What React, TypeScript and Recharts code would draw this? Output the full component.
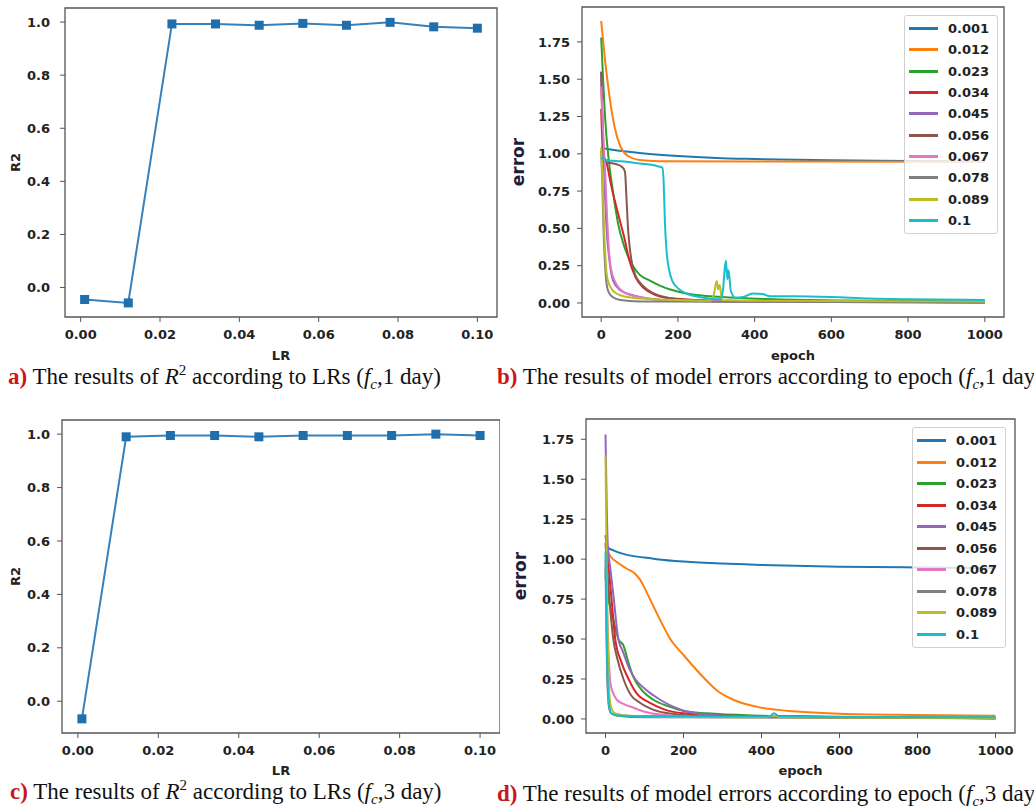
import React from 'react';
import { LineChart, Line, XAxis, YAxis, ReferenceArea, Legend } from 'recharts';

// learning rates tried (x of the R2 panels, legend of the error panels)
const lrValues = [0.001, 0.012, 0.023, 0.034, 0.045, 0.056, 0.067, 0.078, 0.089, 0.1];
const lrNames = ['0.001', '0.012', '0.023', '0.034', '0.045', '0.056', '0.067', '0.078', '0.089', '0.1'];

const r2OneDay = [-0.045, -0.058, 0.993, 0.993, 0.988, 0.995, 0.988, 0.999, 0.982, 0.977];
const r2ThreeDay = [-0.066, 0.99, 0.995, 0.995, 0.99, 0.995, 0.995, 0.995, 1.0, 0.995];

const lrTicks = [0, 0.02, 0.04, 0.06, 0.08, 0.1];
const r2Ticks = [0, 0.2, 0.4, 0.6, 0.8, 1.0];
const epochTicks = [0, 200, 400, 600, 800, 1000];
const errorTicks = [0, 0.25, 0.5, 0.75, 1, 1.25, 1.5, 1.75];

const COLORS = [
  '#1f77b4',
  '#ff7f0e',
  '#2ca02c',
  '#d62728',
  '#9467bd',
  '#8c564b',
  '#e377c2',
  '#7f7f7f',
  '#bcbd22',
  '#17becf',
];

// [epoch, error] (fc, 1 day)
const err1d_001 = [[0, 1.04], [20, 1.03], [50, 1.02], [100, 1.005], [200, 0.985], [300, 0.972], [400, 0.965], [600, 0.956], [800, 0.952], [1000, 0.95]];
const err1d_012 = [[0, 1.89], [5, 1.76], [10, 1.63], [15, 1.52], [23, 1.36], [35, 1.18], [50, 1.05], [70, 0.985], [100, 0.958], [150, 0.95], [400, 0.948], [1000, 0.947]];
const err1d_023 = [[0, 1.78], [5, 1.5], [10, 1.25], [20, 0.95], [30, 0.76], [45, 0.52], [60, 0.38], [80, 0.26], [100, 0.19], [127, 0.15], [150, 0.12], [180, 0.09], [230, 0.06], [314, 0.04], [450, 0.025], [700, 0.015], [1000, 0.01]];
const err1d_034 = [[0, 1.3], [5, 1.0], [15, 0.93], [25, 0.8], [36, 0.68], [48, 0.56], [60, 0.44], [73, 0.29], [90, 0.17], [111, 0.1], [140, 0.055], [170, 0.035], [250, 0.02], [400, 0.01], [1000, 0.005]];
const err1d_045 = [[0, 1.55], [5, 1.1], [10, 0.72], [15, 0.46], [20, 0.32], [31, 0.15], [50, 0.085], [78, 0.055], [120, 0.03], [200, 0.015], [400, 0.008], [1000, 0.004]];
const err1d_056 = [[0, 1.55], [3, 1.2], [6, 0.95], [20, 0.94], [40, 0.93], [55, 0.91], [62, 0.88], [66, 0.7], [70, 0.5], [75, 0.36], [80, 0.27], [90, 0.18], [100, 0.14], [120, 0.09], [150, 0.05], [200, 0.025], [300, 0.012], [1000, 0.005]];
const err1d_067 = [[0, 1.45], [5, 1.15], [10, 0.9], [15, 0.6], [20, 0.36], [25, 0.24], [35, 0.15], [61, 0.07], [100, 0.04], [200, 0.015], [1000, 0.005]];
const err1d_078 = [[0, 1.02], [3, 0.8], [6, 0.5], [10, 0.26], [14, 0.13], [19, 0.075], [30, 0.04], [50, 0.02], [100, 0.01], [1000, 0.003]];
const err1d_089 = [[0, 1.04], [3, 0.85], [6, 0.6], [10, 0.36], [14, 0.2], [20, 0.13], [30, 0.085], [52, 0.05], [100, 0.03], [200, 0.02], [285, 0.015], [294, 0.06], [301, 0.148], [305, 0.09], [309, 0.12], [315, 0.02], [400, 0.015], [1000, 0.01]];
const err1d_1 = [[0, 0.97], [20, 0.955], [50, 0.95], [100, 0.935], [150, 0.915], [160, 0.905], [163, 0.8], [166, 0.55], [170, 0.36], [175, 0.25], [185, 0.15], [204, 0.09], [225, 0.06], [246, 0.045], [280, 0.03], [312, 0.025], [318, 0.1], [321, 0.2], [325, 0.284], [329, 0.16], [332, 0.22], [338, 0.08], [350, 0.035], [370, 0.04], [395, 0.064], [420, 0.06], [440, 0.045], [500, 0.045], [600, 0.04], [700, 0.03], [800, 0.025], [1000, 0.02]];

// [epoch, error] (fc, 3 day)
const err3d_001 = [[0, 1.1], [8, 1.07], [20, 1.055], [50, 1.03], [100, 1.01], [131, 1.0], [200, 0.985], [300, 0.972], [400, 0.964], [600, 0.953], [800, 0.948], [1000, 0.945]];
const err3d_012 = [[0, 1.08], [12, 1.02], [30, 0.98], [55, 0.94], [75, 0.91], [89, 0.87], [100, 0.82], [114, 0.75], [140, 0.62], [166, 0.5], [200, 0.4], [255, 0.25], [285, 0.18], [328, 0.12], [400, 0.07], [500, 0.045], [600, 0.033], [800, 0.025], [1000, 0.02]];
const err3d_023 = [[0, 0.9], [5, 0.78], [12, 0.7], [20, 0.62], [33, 0.5], [46, 0.46], [58, 0.36], [72, 0.26], [90, 0.19], [123, 0.12], [160, 0.08], [200, 0.05], [260, 0.035], [400, 0.02], [600, 0.012], [1000, 0.008]];
const err3d_034 = [[0, 1.15], [4, 1.05], [10, 0.9], [18, 0.68], [25, 0.5], [40, 0.36], [59, 0.25], [80, 0.16], [114, 0.1], [150, 0.06], [200, 0.035], [300, 0.02], [1000, 0.005]];
const err3d_045 = [[0, 1.78], [3, 1.35], [6, 1.08], [12, 0.95], [20, 0.78], [33, 0.5], [45, 0.42], [60, 0.32], [76, 0.25], [100, 0.19], [140, 0.12], [175, 0.075], [208, 0.046], [300, 0.02], [500, 0.01], [1000, 0.005]];
const err3d_056 = [[0, 1.1], [4, 0.95], [10, 0.75], [20, 0.5], [30, 0.38], [46, 0.25], [65, 0.15], [89, 0.1], [120, 0.06], [160, 0.035], [250, 0.018], [1000, 0.005]];
const err3d_067 = [[0, 1.0], [4, 0.7], [8, 0.4], [13, 0.22], [20, 0.16], [29, 0.12], [50, 0.09], [72, 0.07], [100, 0.045], [150, 0.025], [250, 0.012], [1000, 0.005]];
const err3d_078 = [[0, 0.95], [2, 0.6], [4, 0.3], [7, 0.12], [10, 0.06], [15, 0.035], [30, 0.02], [100, 0.01], [1000, 0.005]];
const err3d_089 = [[0, 1.65], [2, 1.2], [4, 0.75], [7, 0.35], [10, 0.15], [15, 0.07], [25, 0.035], [60, 0.02], [200, 0.012], [410, 0.01], [430, 0.022], [450, 0.01], [1000, 0.006]];
const err3d_1 = [[0, 1.05], [2, 0.7], [4, 0.4], [7, 0.15], [10, 0.07], [15, 0.035], [30, 0.022], [100, 0.018], [300, 0.015], [420, 0.016], [432, 0.035], [445, 0.017], [600, 0.012], [1000, 0.01]];

const errors1Day = [err1d_001, err1d_012, err1d_023, err1d_034, err1d_045, err1d_056, err1d_067, err1d_078, err1d_089, err1d_1];
const errors3Day = [err3d_001, err3d_012, err3d_023, err3d_034, err3d_045, err3d_056, err3d_067, err3d_078, err3d_089, err3d_1];

const FONT = 'DejaVu Sans';
const tickStyle = { fill: '#222', fontSize: 13, fontWeight: 700, fontFamily: FONT };
const frameColor = '#555';

function SquareDot(props: any) {
  const { cx, cy, index } = props;
  if (cx == null || cy == null) return null;
  return <rect key={`sq-${index}`} x={cx - 4.5} y={cy - 4.5} width={9} height={9} fill="#1f6fad" />;
}

function R2Panel({ values, width, height, margin, yAxisWidth, xAxisHeight, yDomain, yTickMargin, labelOffset }: any) {
  const data = lrValues.map((lr, i) => ({ lr, r2: values[i] }));
  const xDomain = [-0.00395, 0.10495];
  return (
    <LineChart width={width} height={height} data={data} margin={margin}>
      <XAxis
        type="number"
        dataKey="lr"
        domain={xDomain}
        allowDataOverflow
        ticks={lrTicks}
        tickFormatter={(v) => v.toFixed(2)}
        tick={tickStyle}
        tickSize={5}
        tickMargin={8}
        tickLine={{ stroke: frameColor }}
        axisLine={false}
        height={xAxisHeight}
        label={{ value: 'LR', position: 'insideBottom', offset: 0, ...tickStyle }}
      />
      <YAxis
        type="number"
        domain={yDomain}
        allowDataOverflow
        ticks={r2Ticks}
        tickFormatter={(v) => v.toFixed(1)}
        tick={tickStyle}
        tickSize={5}
        tickMargin={yTickMargin}
        tickLine={{ stroke: frameColor }}
        axisLine={false}
        width={yAxisWidth}
        label={{ value: 'R2', angle: -90, position: 'insideLeft', offset: labelOffset, ...tickStyle, style: { textAnchor: 'middle' } }}
      />
      <Line
        type="linear"
        dataKey="r2"
        stroke="#3581bd"
        strokeWidth={2}
        dot={SquareDot}
        isAnimationActive={false}
      />
      <ReferenceArea x1={xDomain[0]} x2={xDomain[1]} y1={yDomain[0]} y2={yDomain[1]} fill="none" stroke={frameColor} strokeWidth={1.3} ifOverflow="visible" />
    </LineChart>
  );
}

function ErrorLegend({ rowHeight }: { rowHeight: number }) {
  return (
    <div
      style={{
        border: '1px solid #d0d0d0',
        borderRadius: 3,
        background: 'rgba(255,255,255,0.8)',
        padding: '2px 8px 2px 4px',
        fontFamily: FONT,
        fontWeight: 700,
        fontSize: 13,
        color: '#222',
      }}
    >
      {lrNames.map((name, i) => (
        <div key={name} style={{ display: 'flex', alignItems: 'center', height: rowHeight }}>
          <span style={{ display: 'inline-block', width: 29, height: 3, background: COLORS[i], marginRight: 10 }} />
          <span>{name}</span>
        </div>
      ))}
    </div>
  );
}

function ErrorPanel({ series, width, height, margin, yAxisWidth, xAxisHeight, yDomain, labelOffset, legendLeft, legendTop, rowHeight }: any) {
  const xDomain = [-50, 1050];
  return (
    <LineChart width={width} height={height} margin={margin}>
      <XAxis
        type="number"
        dataKey="e"
        domain={xDomain}
        allowDataOverflow
        ticks={epochTicks}
        tick={tickStyle}
        tickSize={5}
        tickMargin={8}
        tickLine={{ stroke: frameColor }}
        axisLine={false}
        height={xAxisHeight}
        label={{ value: 'epoch', position: 'insideBottom', offset: 0, ...tickStyle }}
      />
      <YAxis
        type="number"
        dataKey="v"
        domain={yDomain}
        allowDataOverflow
        ticks={errorTicks}
        tickFormatter={(v) => v.toFixed(2)}
        tick={tickStyle}
        tickSize={5}
        tickMargin={7}
        tickLine={{ stroke: frameColor }}
        axisLine={false}
        width={yAxisWidth}
        label={{
          value: 'error',
          angle: -90,
          position: 'insideLeft',
          offset: labelOffset,
          fill: '#1e1e38',
          fontSize: 17,
          fontWeight: 700,
          fontFamily: FONT,
          style: { textAnchor: 'middle' },
        }}
      />
      {series.map((pts: number[][], i: number) => (
        <Line
          key={lrNames[i]}
          name={lrNames[i]}
          data={pts.map(([e, v]) => ({ e, v }))}
          type="monotone"
          dataKey="v"
          stroke={COLORS[i]}
          strokeWidth={2}
          dot={false}
          isAnimationActive={false}
        />
      ))}
      <ReferenceArea x1={xDomain[0]} x2={xDomain[1]} y1={yDomain[0]} y2={yDomain[1]} fill="none" stroke={frameColor} strokeWidth={1.3} ifOverflow="visible" />
      <Legend
        layout="horizontal"
        verticalAlign="middle"
        align="center"
        wrapperStyle={{ left: legendLeft, top: legendTop, width: 'auto', height: 'auto' }}
        content={() => <ErrorLegend rowHeight={rowHeight} />}
      />
    </LineChart>
  );
}

function Caption({ letter, children, left, top }: any) {
  return (
    <div
      style={{
        position: 'absolute',
        left,
        top,
        fontFamily: '"Liberation Serif", "Times New Roman", serif',
        fontSize: 23,
        lineHeight: '26px',
        whiteSpace: 'nowrap',
        color: '#111',
      }}
    >
      <b style={{ color: '#c8161d' }}>{letter}</b> {children}
    </div>
  );
}

const sup = { fontSize: 15, position: 'relative' as const, top: -9 };
const sub = { fontSize: 15, position: 'relative' as const, top: 5 };

export default function App() {
  return (
    <div style={{ position: 'absolute', left: 0, top: 0, width: 1034, height: 808, background: '#fff', overflow: 'hidden' }}>
      <div style={{ position: 'absolute', left: 0, top: 0 }}>
        <R2Panel
          values={r2OneDay}
          width={500}
          height={372}
          margin={{ top: 8, right: 3, bottom: 12, left: 8 }}
          yAxisWidth={57}
          xAxisHeight={43}
          yDomain={[-0.111, 1.053]}
          yTickMargin={10}
          labelOffset={7}
        />
      </div>
      <div style={{ position: 'absolute', left: 500, top: 0 }}>
        <ErrorPanel
          series={errors1Day}
          width={534}
          height={372}
          margin={{ top: 7, right: 30, bottom: 12, left: 8 }}
          yAxisWidth={74}
          xAxisHeight={43}
          yDomain={[-0.094, 1.984]}
          labelOffset={10}
          legendLeft={404}
          legendTop={15}
          rowHeight={21.3}
        />
      </div>
      <div style={{ position: 'absolute', left: 0, top: 400 }}>
        <R2Panel
          values={r2ThreeDay}
          width={500}
          height={400}
          margin={{ top: 20, right: 0, bottom: 25, left: 8 }}
          yAxisWidth={54}
          xAxisHeight={42}
          yDomain={[-0.119, 1.053]}
          yTickMargin={7}
          labelOffset={7}
        />
      </div>
      <div style={{ position: 'absolute', left: 500, top: 400 }}>
        <ErrorPanel
          series={errors3Day}
          width={534}
          height={408}
          margin={{ top: 19, right: 19, bottom: 33, left: 8 }}
          yAxisWidth={78}
          xAxisHeight={42}
          yDomain={[-0.088, 1.877]}
          labelOffset={12}
          legendLeft={412}
          legendTop={27}
          rowHeight={21.5}
        />
      </div>

      <Caption letter="a)" left={8} top={364}>
        The results of <i>R</i><span style={sup}>2</span> according to LRs (<i>f<span style={sub}>c</span></i>,1 day)
      </Caption>
      <Caption letter="b)" left={497} top={364}>
        The results of model errors according to epoch (<i>f<span style={sub}>c</span></i>,1 day)
      </Caption>
      <Caption letter="c)" left={10} top={779}>
        The results of <i>R</i><span style={sup}>2</span> according to LRs (<i>f<span style={sub}>c</span></i>,3 day)
      </Caption>
      <Caption letter="d)" left={497} top={781}>
        The results of model errors according to epoch (<i>f<span style={sub}>c</span></i>,3 day)
      </Caption>
    </div>
  );
}
